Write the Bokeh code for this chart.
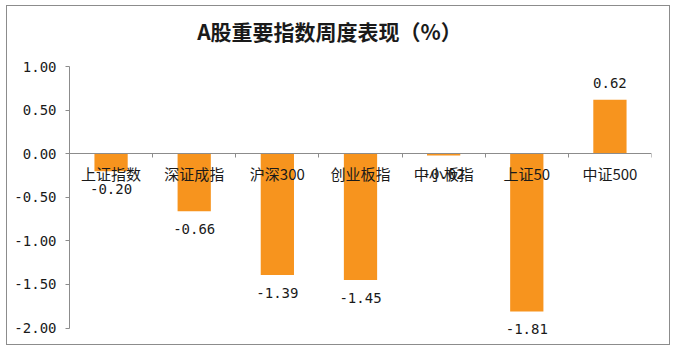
from bokeh.plotting import figure
from bokeh.models import ColumnDataSource, FixedTicker, PrintfTickFormatter, Range1d, Label
from bokeh.core.properties import value
from bokeh.embed import file_html
from bokeh.resources import INLINE

categories = ["上证指数", "深证成指", "沪深300", "创业板指", "中小板指", "上证50", "中证500"]
changes = [-0.20, -0.66, -1.39, -1.45, -0.02, -1.81, 0.62]
y_ticks = [1.0, 0.5, 0.0, -0.5, -1.0, -1.5, -2.0]
title_text = "A股重要指数周度表现（%）"

FONT = "Noto Sans CJK SC"
NUMFONT = "DejaVu Sans Mono"
positions = [i + 1 for i in range(len(categories))]

p = figure(width=664, height=340, output_backend="svg", toolbar_location=None,
           x_range=Range1d(0.5, 7.5), y_range=Range1d(-2.12, 1.644),
           min_border_left=62, min_border_right=20, min_border_top=4, min_border_bottom=8,
           margin=(5, 6, 6, 6))
p.styles = {"border": "1px solid #8c8c8c", "box-sizing": "border-box"}
p.outline_line_color = None
p.grid.visible = False
p.background_fill_color = "white"
p.border_fill_color = "white"

src = ColumnDataSource(dict(
    x=positions, top=changes, cat=categories,
    lab=["%.2f" % v for v in changes],
    off=[-17 if v >= 0 else 18 for v in changes],
))
p.vbar(x="x", top="top", bottom=0, width=0.4, source=src, fill_color="#F7941E", line_color=None)

# value labels
p.text(x="x", y="top", text="lab", y_offset="off", source=src,
       text_align="center", text_baseline="middle", text_font=value(NUMFONT),
       text_font_size="14px", text_color="#1a1a1a")
# category labels just under zero line
p.text(x="x", y=0, text="cat", y_offset=20, source=src,
       text_align="center", text_baseline="middle", text_font=value(FONT),
       text_font_size="15px", text_color="#1a1a1a")

# title
p.add_layout(Label(x=260, y=308, x_units="screen", y_units="screen", text=title_text,
                   text_font=FONT, text_font_size="21px", text_font_style="bold",
                   text_align="center", text_baseline="middle", text_color="#1a1a1a"))

# y axis
yax = p.yaxis[0]
yax.bounds = (-2.0, 1.0)
yax.ticker = FixedTicker(ticks=y_ticks)
yax.formatter = PrintfTickFormatter(format="%.2f")
yax.axis_line_color = "#8c8c8c"
yax.major_tick_line_color = "#8c8c8c"
yax.major_tick_out = 4
yax.major_tick_in = 0
yax.minor_tick_line_color = None
yax.major_label_text_font = NUMFONT
yax.major_label_text_font_size = "14px"
yax.major_label_text_color = "#1a1a1a"
yax.major_label_standoff = 9

# x axis at zero
xax = p.xaxis[0]
xax.fixed_location = 0
xax.ticker = FixedTicker(ticks=[0.5 + i for i in range(8)])
xax.major_label_text_font_size = "0px"
xax.major_label_text_color = None
xax.axis_line_color = "#8c8c8c"
xax.major_tick_line_color = "#8c8c8c"
xax.major_tick_out = 4
xax.major_tick_in = 0
xax.minor_tick_line_color = None

open("out.html", "w").write(file_html(p, INLINE))
